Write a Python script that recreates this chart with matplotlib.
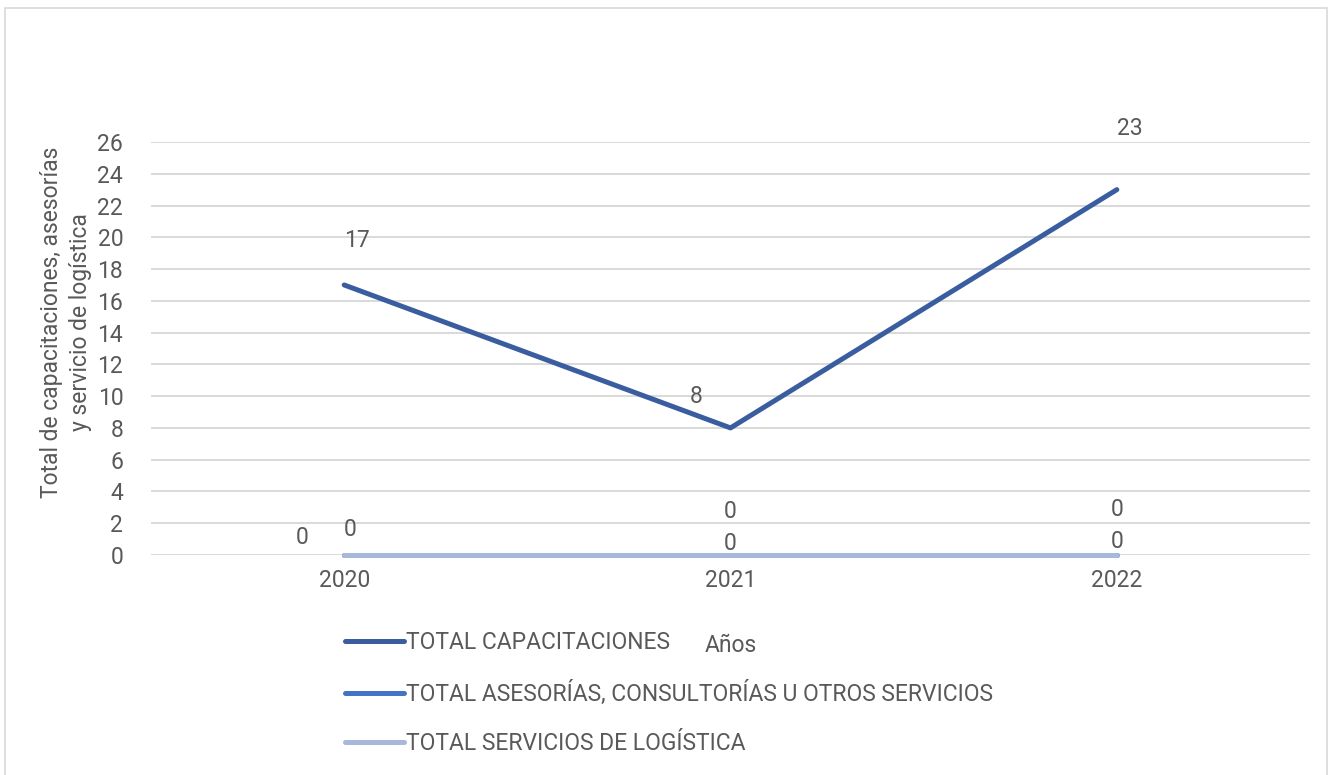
import matplotlib.pyplot as plt
from matplotlib.patches import Rectangle

# datos
years = ['2020', '2021', '2022']
capacitaciones = [17, 8, 23]
asesorias = [0, 0, 0]
logistica = [0, 0, 0]
series_names = ['TOTAL CAPACITACIONES',
                'TOTAL ASESORÍAS, CONSULTORÍAS U OTROS SERVICIOS',
                'TOTAL SERVICIOS DE LOGÍSTICA']
y_ticks = list(range(0, 27, 2))

plt.rcParams['font.family'] = ['Roboto', 'DejaVu Sans']
txt = '#595959'
grid = '#D9D9D9'
fs = 16.5

fig = plt.figure(figsize=(13.31, 7.75), dpi=100)
ax = fig.add_axes([151 / 1331, 1 - 555 / 775, 1159 / 1331, 413 / 775])

x = [0.5, 1.5, 2.5]
l1, = ax.plot(x, capacitaciones, color='#3A5DA0', lw=3.6, solid_capstyle='round', clip_on=False)
l2, = ax.plot(x, asesorias, color='#4472C4', lw=3.6, solid_capstyle='round', clip_on=False)
l3, = ax.plot(x, logistica, color='#A9B8DA', lw=3.6, solid_capstyle='round', clip_on=False)

ax.set_xlim(0, 3)
ax.set_ylim(0, 26)
ax.set_yticks(y_ticks)
ax.set_xticks(x)
ax.set_xticklabels(years)
ax.tick_params(axis='both', length=0, labelsize=fs, colors=txt, pad=10)
ax.tick_params(axis='y', pad=20)
ax.grid(axis='y', color=grid, lw=1.4)
ax.set_axisbelow(True)
for s in ax.spines.values():
    s.set_visible(False)

# etiquetas de datos
lab = dict(fontsize=fs, color=txt, ha='center', va='center')
offs1 = [(13, 44), (-34, 31), (13, 61)]
for xi, v, (dx, dy) in zip(x, capacitaciones, offs1):
    ax.annotate(str(v), (xi, v), xytext=(dx, dy), textcoords='offset pixels', **lab)
offs2 = [(6, 25), (0, 43), (0, 46)]
for xi, v, (dx, dy) in zip(x, asesorias, offs2):
    ax.annotate(str(v), (xi, v), xytext=(dx, dy), textcoords='offset pixels', **lab)
offs3 = [(-42, 17), (0, 12), (0, 14)]
for xi, v, (dx, dy) in zip(x, logistica, offs3):
    ax.annotate(str(v), (xi, v), xytext=(dx, dy), textcoords='offset pixels', **lab)

fig.text(731 / 1331, 1 - 645 / 775, 'Años', fontsize=fs, color=txt, ha='center', va='center')
fig.text(66 / 1331, 1 - 322 / 775, 'Total de capacitaciones, asesorías\ny servicio de logística',
         fontsize=fs, color=txt, rotation=90, ha='center', va='center', linespacing=1.35)

leg = fig.legend([l1, l2, l3], series_names, loc='upper left',
                 bbox_to_anchor=(336 / 1331, 1 - 622 / 775), frameon=False,
                 fontsize=fs, labelcolor=txt, handlelength=2.55, handletextpad=0.1,
                 labelspacing=1.15, borderaxespad=0)

fig.patches.append(Rectangle((5 / 1331, -0.01), 1322 / 1331, 1 - 8 / 775 + 0.01,
                             transform=fig.transFigure, fill=False, ec=grid, lw=1.2))

fig.savefig('out.png', dpi=100)
